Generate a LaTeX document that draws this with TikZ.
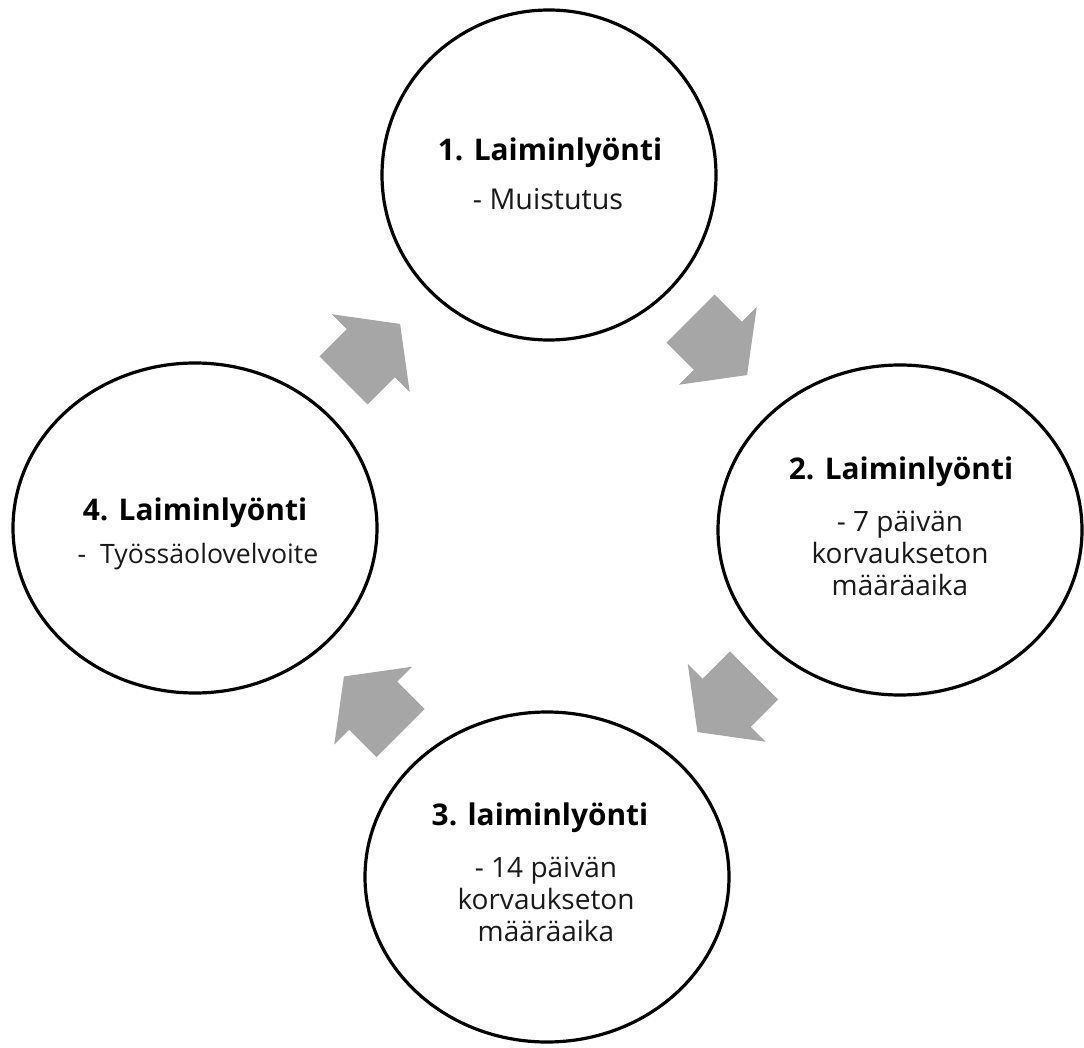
\documentclass[tikz,border=0pt]{standalone}
\usepackage{fontspec}
\setmainfont{Open Sans}
\usetikzlibrary{shapes.geometric}
\definecolor{arrowgray}{HTML}{A6A6A6}
\begin{document}
\begin{tikzpicture}[x=0.75pt,y=-0.75pt,
  stage/.style={draw=black, line width=2.4pt, ellipse, inner sep=0pt,
                minimum width=273pt, minimum height=247.5pt},
  title/.style={font=\fontsize{22.4}{27}\selectfont\bfseries, text=black},
  body/.style={font=\fontsize{20}{24}\selectfont, text=black!90, align=center},
  longbody/.style={body, font=\fontsize{21}{24}\selectfont},
  flowarrow/.pic={
    \fill[arrowgray] (0pt,25.5pt) -- (29pt,25.5pt) -- (29pt,41.25pt) -- (60pt,0pt)
      -- (29pt,-41.25pt) -- (29pt,-25.5pt) -- (0pt,-25.5pt) -- cycle;
  }]
\useasboundingbox (0,0) rectangle (1084,1048);

% the four stages
\node[stage, minimum width=250.5pt] (c1) at (549,175) {};
\node[stage] (c2) at (900,530) {};
\node[stage] (c3) at (547,877) {};
\node[stage] (c4) at (195,528) {};

% texts
\node[title] (t1) at (550,153) {1. Laiminlyönti};
\node[body, font=\fontsize{21.5}{26}\selectfont] (b1) at (548,199) {- Muistutus};
\node[title] (t2) at (901,472) {2. Laiminlyönti};
\node[longbody] (b2) at (900,553) {- 7 päivän\\korvaukseton\\määräaika};
\node[title] (t3) at (540,818) {3. laiminlyönti};
\node[longbody] (b3) at (546,899) {- 14 päivän\\korvaukseton\\määräaika};
\node[title] (t4) at (195,513) {4. Laiminlyönti};
\node[body]  (b4) at (198,557) {-\ \ Työssäolovelvoite};

% block arrows of the cycle
\pic[rotate=-45]  (a1) at (690.5,318.5) {flowarrow};
\pic[rotate=-135] (a2) at (754,675.5)   {flowarrow};
\pic[rotate=135]  (a3) at (400.5,733)   {flowarrow};
\pic[rotate=45]   (a4) at (343.5,380.5) {flowarrow};
\end{tikzpicture}
\end{document}
